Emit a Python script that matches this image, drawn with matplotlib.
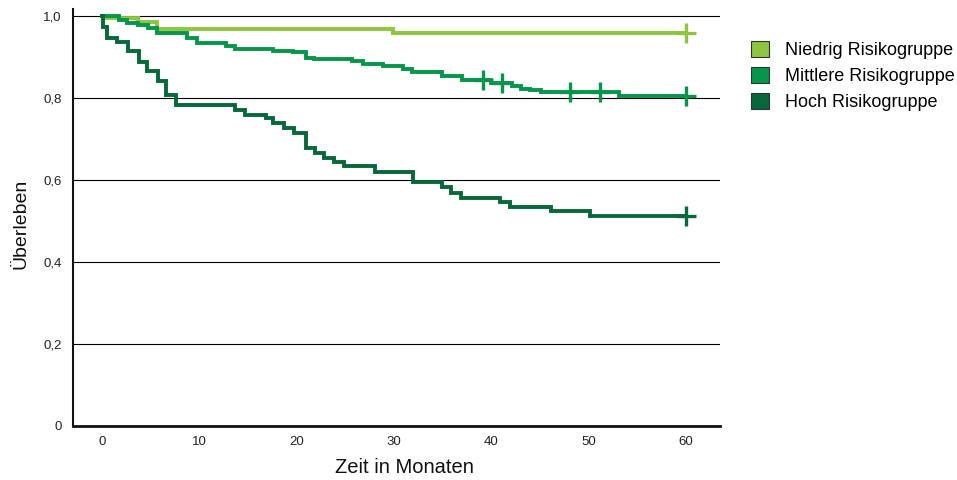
import matplotlib
matplotlib.use("Agg")
import matplotlib.pyplot as plt
from matplotlib.patches import Patch

plt.rcParams['font.family'] = ['Liberation Sans', 'DejaVu Sans']

# ---- data ----
series_names = ["Niedrig Risikogruppe", "Mittlere Risikogruppe", "Hoch Risikogruppe"]
colors = ["#8cc63f", "#05964a", "#07683a"]

niedrig_t = [0, 0.3, 3.7, 5.6, 29.9, 60]
niedrig_s = [1.0, 0.995, 0.985, 0.968, 0.958, 0.958]
niedrig_cens_t = [60]
niedrig_cens_s = [0.958]

mittel_t = [0, 1.7, 2.5, 3.7, 4.7, 5.6, 8.7, 9.7, 12.7, 13.6, 17.6, 19.6, 20.9, 21.8,
            25.7, 26.8, 28.9, 30.9, 31.8, 34.0, 34.9, 37.0, 40.0, 42.1, 43.0, 44.0,
            45.1, 53.1, 60]
mittel_s = [1.0, 0.990, 0.984, 0.978, 0.970, 0.958, 0.946, 0.933, 0.927, 0.919, 0.915,
            0.911, 0.897, 0.894, 0.889, 0.883, 0.878, 0.871, 0.864, 0.863, 0.854, 0.844,
            0.837, 0.830, 0.823, 0.820, 0.815, 0.806, 0.806]
mittel_cens_t = [39.1, 41.1, 48.1, 51.2, 60]
mittel_cens_s = [0.844, 0.837, 0.815, 0.815, 0.806]

hoch_t = [0, 0.1, 0.5, 1.5, 2.7, 3.8, 4.6, 5.7, 6.6, 7.6, 13.7, 14.7, 16.8, 17.6, 18.7,
          19.7, 20.9, 21.9, 22.8, 23.8, 24.9, 28.0, 31.9, 34.9, 35.9, 36.9, 40.9, 41.9,
          46.1, 50.1, 60]
hoch_s = [1.0, 0.974, 0.947, 0.936, 0.915, 0.887, 0.867, 0.842, 0.807, 0.783, 0.771,
          0.759, 0.750, 0.738, 0.726, 0.714, 0.677, 0.665, 0.653, 0.643, 0.635, 0.619,
          0.596, 0.582, 0.569, 0.557, 0.547, 0.535, 0.524, 0.513, 0.513]
hoch_cens_t = [60]
hoch_cens_s = [0.513]

x_ticks = [0, 10, 20, 30, 40, 50, 60]
y_ticks = [0, 0.2, 0.4, 0.6, 0.8, 1.0]
y_tick_labels = ["0", "0,2", "0,4", "0,6", "0,8", "1,0"]

# ---- figure ----
W, H = 957, 480
fig = plt.figure(figsize=(W / 100, H / 100), dpi=100)
ax = fig.add_axes([73 / W, 1 - 426 / H, (720 - 73) / W, (426 - 9) / H])

ax.set_xlim(-3, 63.5)
ax.set_ylim(0, 1.017)

lw = 2.8
curves = [
    (niedrig_t, niedrig_s, niedrig_cens_t, niedrig_cens_s, colors[0]),
    (mittel_t, mittel_s, mittel_cens_t, mittel_cens_s, colors[1]),
    (hoch_t, hoch_s, hoch_cens_t, hoch_cens_s, colors[2]),
]
for i, (t, s, ct, cs, c) in enumerate(curves):
    ax.step(t, s, where="post", color=c, lw=lw, zorder=3 + i, solid_joinstyle="miter")
    ax.plot(ct, cs, linestyle="none", marker="+", markersize=14, markeredgewidth=2.4,
            color=c, zorder=3 + i)

ax.set_yticks(y_ticks)
ax.set_yticklabels(y_tick_labels)
ax.set_xticks(x_ticks)
ax.tick_params(axis="both", length=0, labelsize=9.5, colors="#222222")
ax.tick_params(axis="y", pad=8)
ax.tick_params(axis="x", pad=7)

ax.yaxis.grid(True, color="black", lw=0.8, zorder=1)
ax.set_axisbelow(True)

for side in ["top", "right"]:
    ax.spines[side].set_visible(False)
ax.spines["left"].set_linewidth(1.5)
ax.spines["bottom"].set_linewidth(2.0)
ax.spines["left"].set_color("#111111")
ax.spines["bottom"].set_color("#111111")

ax.set_xlabel("Zeit in Monaten", fontsize=14.5, color="#111111")
ax.xaxis.set_label_coords(0.5116, -0.076)
ax.set_ylabel("Überleben", fontsize=14, color="#111111")
ax.yaxis.set_label_coords(-0.068, 0.484)

handles = [Patch(facecolor=c, edgecolor="#333333", lw=0.8) for c in colors]
fig.legend(handles, series_names, loc="upper left",
           bbox_to_anchor=(751 / W, 1 - 41 / H), frameon=False, fontsize=13,
           handlelength=1.0, handleheight=1.0, handletextpad=0.9,
           labelspacing=0.42, borderpad=0, borderaxespad=0)

fig.savefig("out.png", dpi=100)
